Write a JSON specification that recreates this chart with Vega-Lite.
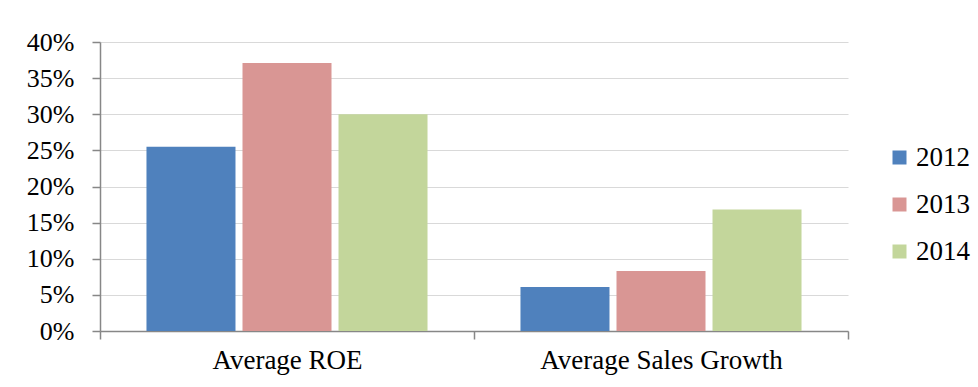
{
  "$schema": "https://vega.github.io/schema/vega-lite/v6.json",
  "width": 748,
  "height": 289,
  "autosize": {"type": "none"},
  "padding": {"left": 100, "top": 42, "right": 130, "bottom": 56},
  "background": "white",
  "config": {
    "view": {"stroke": null}
  },
  "data": {
    "values": [
      {"metric": "Average ROE", "year": "2012", "value": 0.255},
      {"metric": "Average ROE", "year": "2013", "value": 0.371},
      {"metric": "Average ROE", "year": "2014", "value": 0.300},
      {"metric": "Average Sales Growth", "year": "2012", "value": 0.061},
      {"metric": "Average Sales Growth", "year": "2013", "value": 0.083},
      {"metric": "Average Sales Growth", "year": "2014", "value": 0.168}
    ]
  },
  "mark": {"type": "bar"},
  "encoding": {
    "x": {
      "field": "metric",
      "type": "nominal",
      "sort": null,
      "scale": {"paddingInner": 0, "paddingOuter": 0},
      "axis": {
        "title": null,
        "labelAngle": 0,
        "labelFont": "Liberation Serif",
        "labelColor": "#000000",
        "labelFontSize": 27,
        "labelLimit": 0,
        "labelPadding": 8,
        "tickBand": "extent",
        "tickSize": 8,
        "tickColor": "#878787",
        "domainColor": "#878787",
        "tickWidth": 1.5,
        "domainWidth": 1.5
      }
    },
    "xOffset": {
      "field": "year",
      "type": "nominal",
      "scale": {"paddingInner": 0.073, "paddingOuter": 0.484}
    },
    "y": {
      "field": "value",
      "type": "quantitative",
      "scale": {"domain": [0, 0.4], "nice": false},
      "axis": {
        "title": null,
        "values": [0, 0.05, 0.1, 0.15, 0.2, 0.25, 0.3, 0.35, 0.4],
        "format": ".0%",
        "labelFont": "Liberation Serif",
        "labelColor": "#000000",
        "labelFontSize": 26,
        "labelPadding": 18,
        "tickSize": 8,
        "tickColor": "#878787",
        "domainColor": "#878787",
        "tickWidth": 1.5,
        "domainWidth": 1.5,
        "grid": true,
        "gridColor": "#D9D9D9",
        "gridWidth": 1.2
      }
    },
    "color": {
      "field": "year",
      "type": "nominal",
      "scale": {"domain": ["2012", "2013", "2014"], "range": ["#4F81BD", "#D99694", "#C3D69B"]},
      "legend": {
        "title": null,
        "orient": "none",
        "legendX": 786,
        "legendY": 102,
        "symbolType": "square",
        "symbolSize": 196,
        "symbolStrokeWidth": 0,
        "labelFont": "Liberation Serif",
        "labelFontSize": 27,
        "labelColor": "#000000",
        "rowPadding": 19,
        "labelOffset": 3
      }
    }
  }
}
